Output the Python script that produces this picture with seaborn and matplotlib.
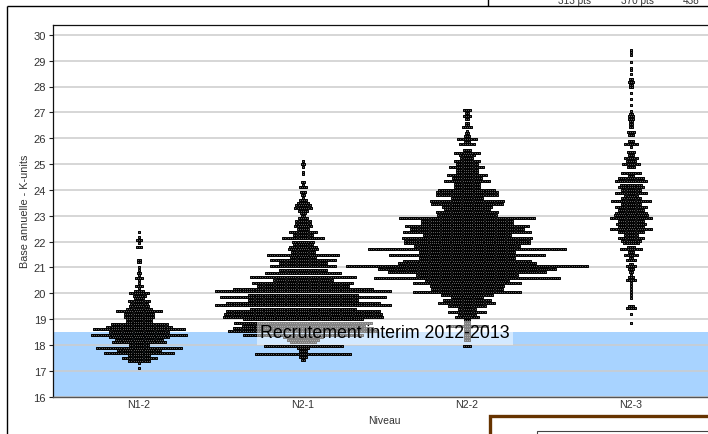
import numpy as np
import pandas as pd
import matplotlib
matplotlib.use("Agg")
import matplotlib.pyplot as plt
from matplotlib.lines import Line2D
from matplotlib.patches import Rectangle
import seaborn as sns

categories = ["N1-2", "N2-1", "N2-2", "N2-3"]
y_ticks = list(range(16, 31))
x_label = "Niveau"
y_label = "Base annuelle - K-units"
band_low, band_high = 16, 18.5
band_label = "Recrutement interim 2012-2013"
header_texts = ["313 pts", "370 pts", "438"]

n12_levels = [17.1, 17.3, 17.4, 17.5, 17.6, 17.7, 17.8, 17.9, 18.0, 18.1, 18.2, 18.3, 18.4, 18.5, 18.6, 18.7, 18.8,
              18.9, 19.0, 19.1, 19.2, 19.3, 19.4, 19.5, 19.6, 19.7, 19.8, 19.9, 20.0, 20.1, 20.2, 20.3, 20.4, 20.5,
              20.6, 20.7, 20.8, 20.9, 21.0, 21.2, 21.3, 21.8, 21.93, 22.08, 22.17, 22.36]
n12_counts = [1, 1, 10, 16, 10, 32, 20, 39, 9, 25, 22, 27, 44, 27, 42, 30, 26,
              12, 12, 14, 14, 21, 12, 9, 8, 10, 5, 6, 9, 5, 1, 4, 1, 1,
              4, 1, 2, 1, 1, 2, 2, 3, 1, 3, 1, 1]

n21_levels = [17.43, 17.53, 17.65, 17.77, 17.87, 17.97, 18.1, 18.2, 18.3, 18.4, 18.53, 18.65, 18.75, 18.87, 19.0,
              19.1, 19.2, 19.3, 19.4, 19.53, 19.63, 19.73, 19.85, 19.95, 20.07, 20.17, 20.27, 20.38, 20.53, 20.62,
              20.78, 20.9, 21.04, 21.17, 21.28, 21.39, 21.49, 21.6, 21.7, 21.8, 21.9, 22.0, 22.14, 22.25, 22.36,
              22.5, 22.6, 22.7, 22.8, 22.9, 23.0, 23.1, 23.2, 23.3, 23.4, 23.5, 23.6, 23.7, 23.8, 23.9, 24.1, 24.2,
              24.3, 24.6, 24.7, 24.9, 25.0, 25.1]
n21_counts = [2, 4, 44, 4, 6, 36, 12, 15, 18, 55, 68, 64, 56, 63, 55,
              73, 72, 70, 48, 80, 70, 50, 76, 50, 80, 64, 42, 46, 27, 48,
              35, 22, 30, 22, 30, 12, 33, 11, 14, 13, 9, 10, 19, 9, 13,
              6, 8, 7, 7, 5, 2, 3, 5, 8, 7, 6, 4, 1, 2, 3, 4, 1,
              2, 1, 1, 1, 2, 1]

n22_levels = [17.97, 18.2, 18.3, 18.4, 18.5, 18.6, 18.75, 18.85, 18.95, 19.07, 19.17, 19.28, 19.39, 19.51, 19.61,
              19.73, 19.84, 19.95, 20.05, 20.17, 20.28, 20.38, 20.49, 20.6, 20.71, 20.82, 20.93, 21.04, 21.16, 21.26,
              21.36, 21.48, 21.58, 21.7, 21.83, 21.93, 22.04, 22.14, 22.25, 22.36, 22.49, 22.6, 22.7, 22.8, 22.9,
              23.02, 23.13, 23.25, 23.35, 23.47, 23.57, 23.69, 23.79, 23.9, 24.0, 24.13, 24.23, 24.33, 24.45, 24.57,
              24.68, 24.78, 24.89, 25.0, 25.12, 25.22, 25.34, 25.44, 25.56, 25.76, 25.87, 25.98, 26.1, 26.19, 26.29,
              26.42, 26.5, 26.6, 26.74, 26.87, 26.97, 27.08]
n22_counts = [4, 3, 3, 3, 3, 3, 19, 3, 3, 11, 8, 17, 8, 17, 26,
              22, 15, 24, 49, 33, 34, 49, 38, 85, 46, 72, 81, 110, 63, 58,
              44, 71, 44, 90, 48, 57, 57, 59, 40, 58, 52, 56, 42, 42, 62,
              27, 28, 21, 23, 33, 34, 15, 28, 28, 26, 12, 12, 21, 14, 18,
              10, 10, 16, 10, 12, 6, 7, 12, 4, 7, 3, 9, 3, 2, 1,
              5, 2, 2, 2, 4, 2, 4]

n23_levels = [18.85, 19.18, 19.42, 19.52, 19.82, 19.93, 20.05, 20.16, 20.28, 20.4, 20.5, 20.62, 20.72, 20.83, 20.94,
              21.04, 21.14, 21.27, 21.38, 21.48, 21.6, 21.7, 21.8, 21.93, 22.03, 22.14, 22.25, 22.36, 22.47, 22.58,
              22.68, 22.78, 22.9, 23.01, 23.12, 23.22, 23.32, 23.45, 23.56, 23.67, 23.78, 23.89, 24.0, 24.1, 24.2,
              24.33, 24.45, 24.55, 24.67, 24.88, 25.0, 25.11, 25.22, 25.34, 25.46, 25.66, 25.77, 25.9, 26.13, 26.23,
              26.42, 26.55, 26.65, 26.75, 26.85, 26.94, 27.07, 27.3, 27.52, 27.75, 27.97, 28.06, 28.19, 28.29, 28.49,
              28.62, 28.73, 28.96, 29.23, 29.32, 29.43]
n23_counts = [1, 1, 5, 3, 1, 1, 1, 1, 1, 1, 5, 3, 1, 2, 3,
              5, 2, 5, 2, 6, 3, 10, 4, 7, 9, 12, 6, 12, 19, 12,
              14, 12, 19, 16, 15, 12, 15, 9, 18, 9, 6, 15, 9, 12, 10,
              15, 12, 3, 9, 4, 8, 5, 6, 3, 4, 1, 6, 3, 3, 4,
              2, 2, 2, 3, 3, 2, 1, 1, 1, 1, 2, 2, 3, 2, 1,
              1, 1, 1, 1, 1, 1]

levels = [n12_levels, n21_levels, n22_levels, n23_levels]
counts = [n12_counts, n21_counts, n22_counts, n23_counts]

W, H = 708, 435
AX_L, AX_T, AX_B = 53, 26, 397.7
PX_PER_CAT, PX_PER_UNIT = 164, 25.85
DOT_PX = 2.2

sns.set_theme(style="white")
plt.rcParams["font.family"] = ["Liberation Sans", "DejaVu Sans"]

frames = []
for pos, (lv, ct) in enumerate(zip(levels, counts)):
    for v, c in zip(lv, ct):
        off = (np.arange(c) - (c - 1) / 2) * DOT_PX / PX_PER_CAT
        frames.append(pd.DataFrame({"x": pos + off, "y": v}))
df = pd.concat(frames, ignore_index=True)

fig = plt.figure(figsize=(W / 100, H / 100), dpi=100)
ax = fig.add_axes([AX_L / W, 1 - AX_B / H, 1 - AX_L / W, (AX_B - AX_T) / H])

ax.axhspan(band_low, band_high, color="#A8D3FF", lw=0, zorder=0)
ax.set_axisbelow(True)
ax.grid(axis="y", color="#CCCCCC", lw=1.1, zorder=1)
sns.scatterplot(data=df, x="x", y="y", marker="s", s=3.6, color="#5A5A5A", edgecolor="black",
                linewidth=0.7, ax=ax, zorder=3, legend=False)

ax.set_xlim(-(139 - AX_L) / PX_PER_CAT, (W - 139) / PX_PER_CAT)
ax.set_ylim(16, 16 + (AX_B - AX_T) / PX_PER_UNIT)
ax.set_xticks(range(len(categories)), categories)
ax.set_yticks(y_ticks)
ax.tick_params(axis="y", length=3, width=0.8, pad=2, left=True, color="#222222", labelsize=8, labelcolor="#333333")
ax.tick_params(axis="x", length=0, pad=1.5, labelsize=7.7, labelcolor="#333333")
ax.set_xlabel(x_label, fontsize=7.5, color="#333333")
ax.set_ylabel(y_label, fontsize=7.8, color="#333333")
ax.xaxis.set_label_coords((384 - AX_L) / (W - AX_L), -(416 - AX_B) / (AX_B - AX_T), transform=ax.transAxes)
ax.yaxis.set_label_coords(-(AX_L - 30) / (W - AX_L), (AX_B - 211) / (AX_B - AX_T), transform=ax.transAxes)

for s in ["left", "top"]:
    ax.spines[s].set_color("#111111")
    ax.spines[s].set_linewidth(0.9)
ax.spines["bottom"].set_color("#555555")
ax.spines["bottom"].set_linewidth(1.0)
ax.spines["right"].set_visible(False)

ax.text((385 - 139) / PX_PER_CAT, 16 + (AX_B - 334) / PX_PER_UNIT, band_label, ha="center", va="center",
        fontsize=12.8, color="black", zorder=6,
        bbox=dict(boxstyle="square,pad=0.2", facecolor="white", edgecolor="none", alpha=0.5))


def px_line(x0, y0, x1, y1, color="black", lw=1.0):
    fig.add_artist(Line2D([x0 / W, x1 / W], [1 - y0 / H, 1 - y1 / H], color=color, lw=lw,
                          transform=fig.transFigure, solid_capstyle="butt"))


px_line(6.5, 6.5, 6.5, H)
px_line(6.5, 6.5, W, 6.5)
px_line(487.5, 0, 487.5, 6.5)
fig.add_artist(Rectangle((489.5 / W, -0.02), (W + 20 - 489.5) / W, 1 - 417 / H + 0.02, transform=fig.transFigure,
                         facecolor="white", edgecolor="#663300", lw=2.4))
fig.add_artist(Rectangle((536.5 / W, -0.02), (W + 20 - 536.5) / W, 1 - 432.5 / H + 0.02, transform=fig.transFigure,
                         facecolor="white", edgecolor="#444444", lw=0.8))
for t, x in zip(header_texts, [574, 637, 691]):
    fig.text(x / W, 1 - 4 / H, t, ha="center", va="baseline", fontsize=7.2, color="#333333")

fig.savefig("out.png", dpi=100)
